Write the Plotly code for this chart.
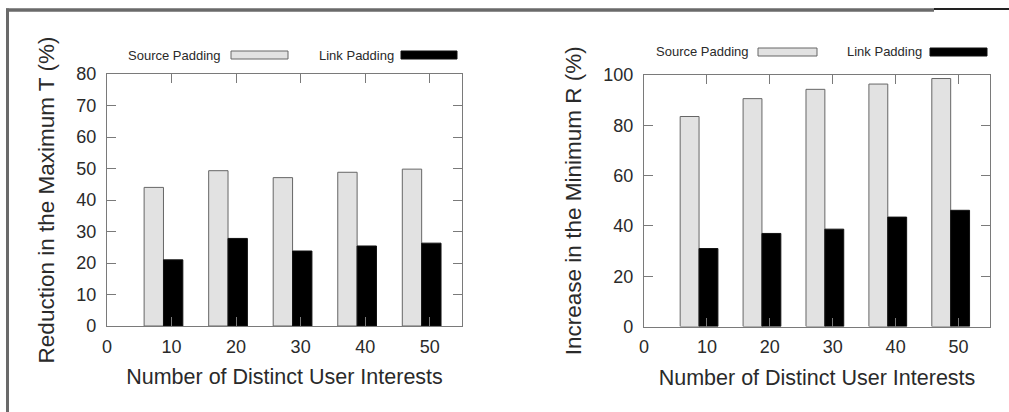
import plotly.graph_objects as go

# ---- data ----
interests = [10, 20, 30, 40, 50]
reduction_source = [44, 49.3, 47.1, 48.8, 49.8]
reduction_link = [21, 27.8, 23.8, 25.4, 26.3]
increase_source = [83.5, 90.6, 94.3, 96.4, 98.6]
increase_link = [31, 37, 38.7, 43.5, 46.2]
x_ticks = [0, 10, 20, 30, 40, 50]
series_names = ["Source Padding", "Link Padding"]

W, H = 1009, 412
def px(x):
    return x / W
def py(y):
    return 1 - y / H

SRC_FILL = "#e2e2e2"
SRC_LINE = "#666666"
LNK_FILL = "#000000"
AX_COL = "#7a7a7a"
TXT = "#2a2a2a"
FONT = "Liberation Sans, Arial, sans-serif"

fig = go.Figure()

for xa, ya, src, lnk in [("x", "y", reduction_source, reduction_link),
                         ("x2", "y2", increase_source, increase_link)]:
    fig.add_trace(go.Bar(x=interests, y=src, name=series_names[0], width=3, offset=-4.25,
                         marker=dict(color=SRC_FILL, line=dict(color=SRC_LINE, width=1)),
                         xaxis=xa, yaxis=ya, showlegend=False))
    fig.add_trace(go.Bar(x=interests, y=lnk, name=series_names[1], width=3, offset=-1.25,
                         marker=dict(color=LNK_FILL, line=dict(color="#111111", width=1)),
                         xaxis=xa, yaxis=ya, showlegend=False))

axis_common = dict(showline=True, linecolor=AX_COL, linewidth=1.2, mirror="ticks",
                   ticks="inside", ticklen=9, tickcolor=AX_COL, tickwidth=1,
                   showgrid=False, zeroline=False, automargin=False,
                   tickfont=dict(family=FONT, size=18, color=TXT))

xtitle = dict(text="Number of Distinct User Interests", font=dict(family=FONT, size=21.5, color=TXT), standoff=13)

fig.update_layout(
    width=W, height=H, margin=dict(l=0, r=0, t=0, b=0, autoexpand=False),
    paper_bgcolor="white", plot_bgcolor="white", barmode="overlay", hovermode=False,
    xaxis=dict(domain=[px(107), px(462)], range=[0, 55], tickvals=x_ticks, anchor="y",
               title=xtitle, ticklabelstandoff=4, **axis_common),
    yaxis=dict(domain=[py(326), py(74)], range=[0, 80], dtick=10, anchor="x",
               title=dict(text="Reduction in the Maximum T (%)", font=dict(family=FONT, size=22.5, color=TXT), standoff=15),
               ticklabelstandoff=6, **axis_common),
    xaxis2=dict(domain=[px(644), px(990)], range=[0, 55], tickvals=x_ticks, anchor="y2",
                title=xtitle, ticklabelstandoff=4, **axis_common),
    yaxis2=dict(domain=[py(326.5), py(75)], range=[0, 100], dtick=20, anchor="x2",
                title=dict(text="Increase in the Minimum R (%)", font=dict(family=FONT, size=22.5, color=TXT), standoff=15),
                ticklabelstandoff=6, **axis_common),
)

# ---- legends (text + swatch) ----
legend_specs = [
    # (text right edge, box x0, box x1, y center, name, fill, line)
    (223, 231, 288, 55, series_names[0], SRC_FILL, SRC_LINE),
    (396, 401, 457, 55, series_names[1], LNK_FILL, "#111111"),
    (751, 758, 817, 52, series_names[0], SRC_FILL, SRC_LINE),
    (924, 930, 987, 52, series_names[1], LNK_FILL, "#111111"),
]
for tx, bx0, bx1, yc, name, fill, line in legend_specs:
    fig.add_annotation(x=px(tx), y=py(yc), xref="paper", yref="paper", text=name,
                       showarrow=False, xanchor="right", yanchor="middle",
                       font=dict(family=FONT, size=13, color=TXT))
    fig.add_shape(type="rect", xref="paper", yref="paper",
                  x0=px(bx0), x1=px(bx1), y0=py(yc + 4), y1=py(yc - 4),
                  fillcolor=fill, line=dict(color=line, width=1))

# ---- outer frame ----
fig.add_shape(type="line", xref="paper", yref="paper", x0=px(6), x1=px(934), y0=py(10), y1=py(10),
              line=dict(color="#6a6a6a", width=3.5))
fig.add_shape(type="line", xref="paper", yref="paper", x0=px(934), x1=px(1009), y0=py(9), y1=py(9),
              line=dict(color="#222222", width=2))
fig.add_shape(type="line", xref="paper", yref="paper", x0=px(7.5), x1=px(7.5), y0=py(8.5), y1=py(412),
              line=dict(color="#6a6a6a", width=3))

fig.write_html("out.html", config={"displayModeBar": False, "staticPlot": True},
               post_script="document.body.style.margin='0';")
